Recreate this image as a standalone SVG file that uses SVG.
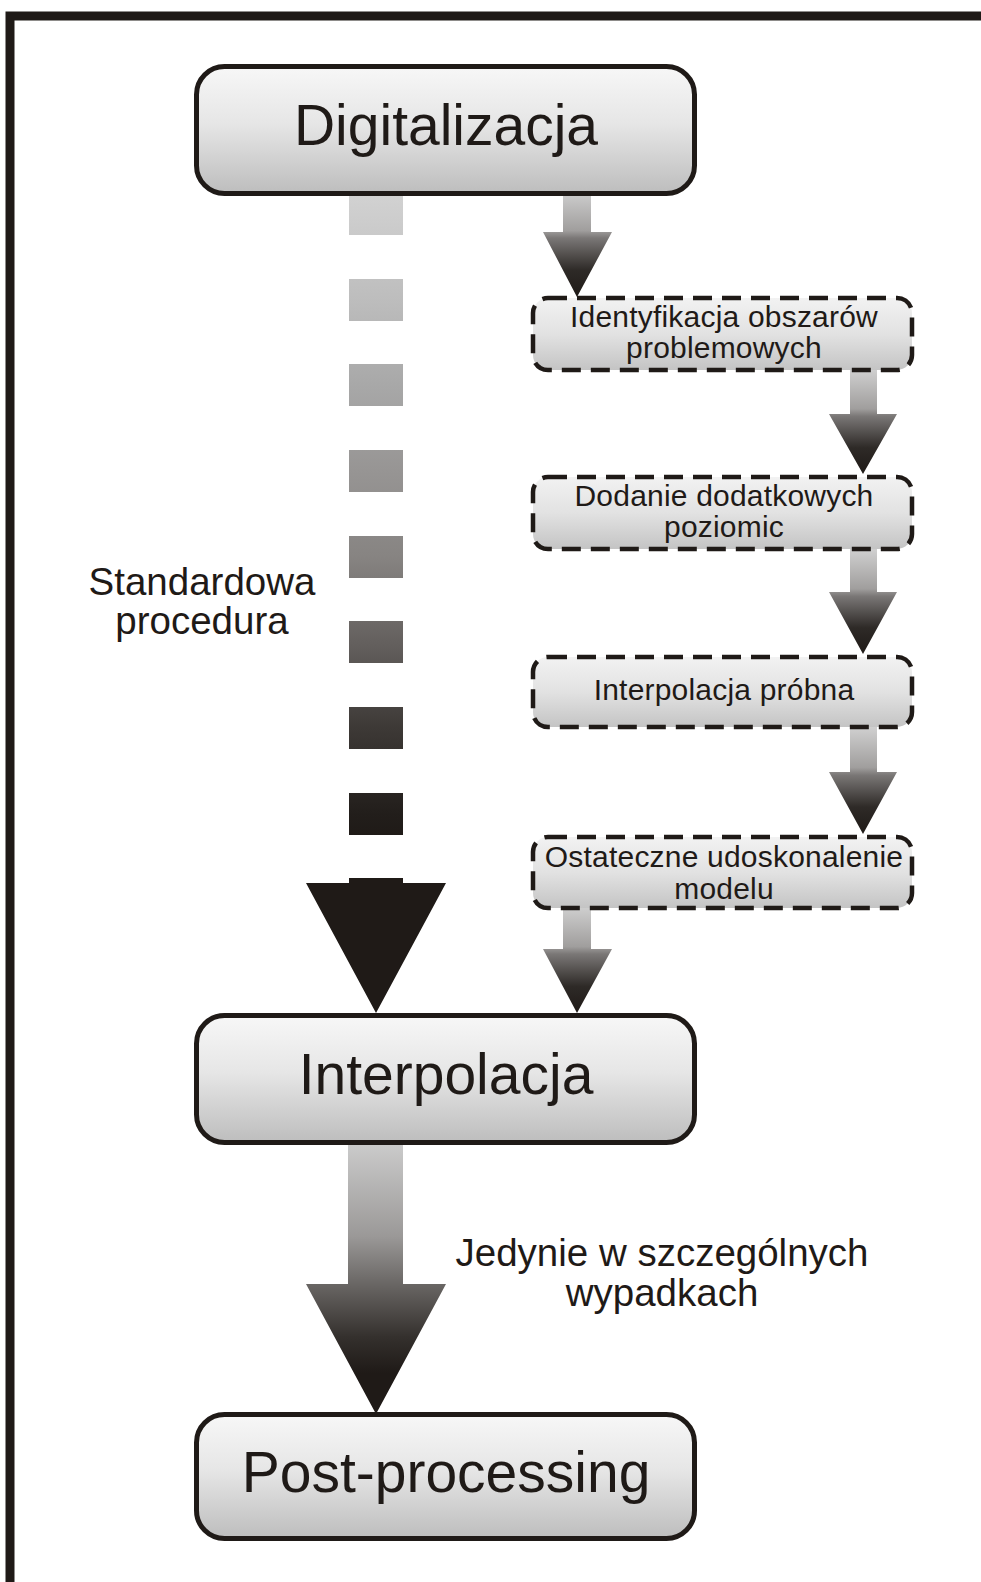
<svg xmlns="http://www.w3.org/2000/svg" width="981" height="1582" viewBox="0 0 981 1582">
<defs>
<linearGradient id="boxGrad" x1="0" y1="0" x2="0" y2="1">
<stop offset="0" stop-color="#f7f7f7"/>
<stop offset="0.45" stop-color="#e6e6e6"/>
<stop offset="1" stop-color="#bdbdbd"/>
</linearGradient>
<linearGradient id="dashGrad" x1="0" y1="0" x2="0" y2="1">
<stop offset="0" stop-color="#f2f2f2"/>
<stop offset="0.5" stop-color="#e2e2e2"/>
<stop offset="1" stop-color="#c4c4c4"/>
</linearGradient>
<linearGradient id="sqGrad" gradientUnits="userSpaceOnUse" x1="0" y1="194" x2="0" y2="835">
<stop offset="0" stop-color="#d2d2d2"/>
<stop offset="0.165" stop-color="#bdbdbd"/>
<stop offset="0.298" stop-color="#a8a8a8"/>
<stop offset="0.43" stop-color="#979594"/>
<stop offset="0.565" stop-color="#878482"/>
<stop offset="0.70" stop-color="#64605e"/>
<stop offset="0.833" stop-color="#3d3936"/>
<stop offset="0.966" stop-color="#221e1b"/>
<stop offset="1" stop-color="#1f1a17"/>
</linearGradient>
<linearGradient id="arrGrad" x1="0" y1="0" x2="0" y2="1">
<stop offset="0" stop-color="#d0d0d0"/>
<stop offset="0.38" stop-color="#a09e9d"/>
<stop offset="0.45" stop-color="#7a7776"/>
<stop offset="0.75" stop-color="#2e2a27"/>
<stop offset="1" stop-color="#1f1a17"/>
</linearGradient>
<linearGradient id="bigGrad" x1="0" y1="0" x2="0" y2="1">
<stop offset="0" stop-color="#cdcdcd"/>
<stop offset="0.35" stop-color="#9b9998"/>
<stop offset="0.52" stop-color="#6b6866"/>
<stop offset="0.72" stop-color="#34302d"/>
<stop offset="0.85" stop-color="#1f1a17"/>
<stop offset="1" stop-color="#1f1a17"/>
</linearGradient>
</defs>
<style>
.main{fill:url(#boxGrad);stroke:#1f1a17;stroke-width:5}
.dash{fill:url(#dashGrad);stroke:#1f1a17;stroke-width:4.5;stroke-dasharray:19 10}
.big{font-family:"Liberation Sans",Arial,sans-serif;font-size:57px;fill:#1f1a17;text-anchor:middle}
.sm{font-family:"Liberation Sans",Arial,sans-serif;font-size:30px;fill:#1f1a17;text-anchor:middle;letter-spacing:0.2px}
.lbl{font-family:"Liberation Sans",Arial,sans-serif;font-size:38.5px;fill:#1f1a17;text-anchor:middle}
.arr{fill:url(#arrGrad)}
</style>
<rect x="0" y="0" width="981" height="1582" fill="#ffffff"/>
<rect x="10" y="16" width="1000" height="1620" fill="none" stroke="#1f1a17" stroke-width="9"/>

<g id="connectors">
<g id="standard-dashed" fill="url(#sqGrad)">
<rect x="349" y="193" width="54" height="42"/>
<rect x="349" y="279" width="54" height="42"/>
<rect x="349" y="364" width="54" height="42"/>
<rect x="349" y="450" width="54" height="42"/>
<rect x="349" y="536" width="54" height="42"/>
<rect x="349" y="621" width="54" height="42"/>
<rect x="349" y="707" width="54" height="42"/>
<rect x="349" y="793" width="54" height="42"/>
<path d="M349 878 H403 V883 H446 L376 1013 L306 883 H349 Z" fill="#1f1a17"/>
</g>
<path class="arr" d="M563 190 H591 V232 H612 L577 297 L543 232 H563 Z"/>
<path class="arr" d="M850 369 H877 V414 H897 L863 474 L829 414 H850 Z"/>
<path class="arr" d="M850 549 H877 V592 H897 L863 654 L829 592 H850 Z"/>
<path class="arr" d="M850 727 H877 V772 H897 L863 834 L829 772 H850 Z"/>
<path class="arr" d="M563 906 H591 V949 H612 L577 1013 L543 949 H563 Z"/>
<path d="M348 1140 H403 V1284 H446 L376 1414 L306 1284 H348 Z" fill="url(#bigGrad)"/>
<text class="lbl" x="202" y="595">Standardowa</text>
<text class="lbl" x="202" y="634">procedura</text>
<text class="lbl" x="662" y="1266">Jedynie w szczególnych</text>
<text class="lbl" x="662" y="1306">wypadkach</text>
</g>

<g id="digitalizacja">
<rect class="main" x="196.5" y="66.5" width="498" height="127" rx="28"/>
<text class="big" x="446" y="144.5">Digitalizacja</text>
</g>
<g id="identyfikacja">
<rect class="dash" x="533" y="298" width="379" height="72" rx="15"/>
<text class="sm" x="724" y="327">Identyfikacja obszarów</text>
<text class="sm" x="724" y="358">problemowych</text>
</g>
<g id="dodanie">
<rect class="dash" x="533" y="477" width="379" height="72" rx="15"/>
<text class="sm" x="724" y="506">Dodanie dodatkowych</text>
<text class="sm" x="724" y="537">poziomic</text>
</g>
<g id="interpolacja-probna">
<rect class="dash" x="533" y="657" width="379" height="70" rx="15"/>
<text class="sm" x="724" y="700">Interpolacja próbna</text>
</g>
<g id="ostateczne">
<rect class="dash" x="533" y="837" width="379" height="71" rx="15"/>
<text class="sm" x="724" y="867">Ostateczne udoskonalenie</text>
<text class="sm" x="724" y="899">modelu</text>
</g>
<g id="interpolacja">
<rect class="main" x="196.5" y="1015.5" width="498" height="127" rx="28"/>
<text class="big" x="446" y="1094">Interpolacja</text>
</g>
<g id="post-processing">
<rect class="main" x="196.5" y="1414.5" width="498" height="124" rx="28"/>
<text class="big" x="446" y="1492">Post-processing</text>
</g>
</svg>
